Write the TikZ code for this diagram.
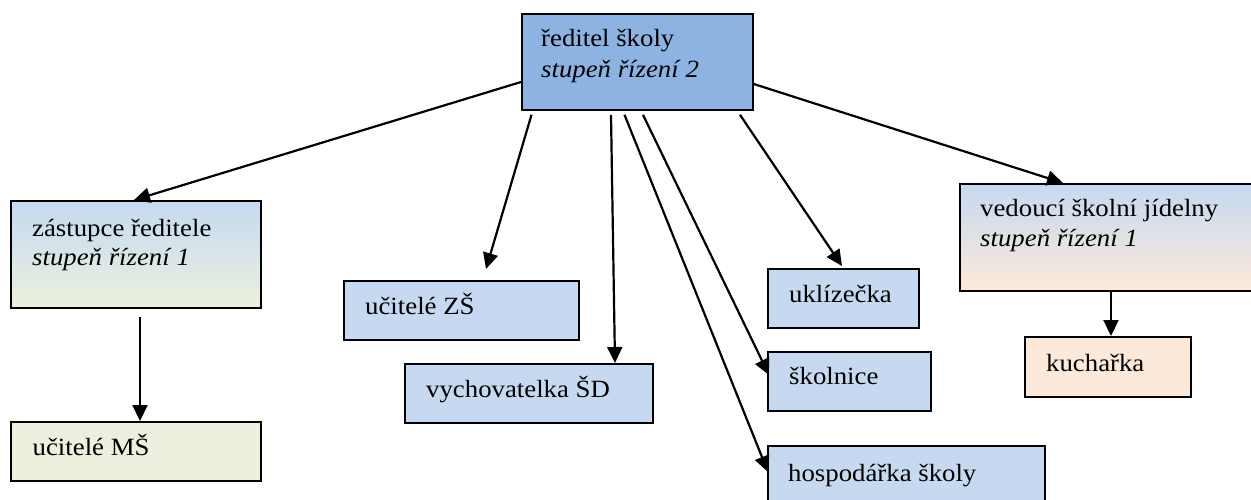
\documentclass[tikz,border=0pt]{standalone}
\usepackage{fontspec}
\setmainfont{Liberation Serif}[FakeStretch=1.08]
\usetikzlibrary{arrows.meta,calc}
\definecolor{dblue}{HTML}{8DB3E2}
\definecolor{lblue}{HTML}{C6D9F1}
\definecolor{lgreen}{HTML}{EBF1DE}
\definecolor{peach}{HTML}{FDE9D9}
\begin{document}
\begin{tikzpicture}[x=1pt,y=-1pt,
  box/.style={draw=black,line width=1.8pt,rectangle,anchor=north west,inner sep=0pt},
  lbl/.style={anchor=base west,inner sep=0pt,font=\fontsize{24.8}{29}\selectfont},
  arr/.style={line width=2.2pt,-{Triangle[length=16pt,width=15pt]}}]
\useasboundingbox (0,0) rectangle (1251,499);
\clip (0,0) rectangle (1251,499);
% boxes
\node[box,fill=dblue,minimum width=231pt,minimum height=96pt] (red) at (521,13) {};
\node[box,top color=lblue,bottom color=lgreen,minimum width=250pt,minimum height=107pt] (zs) at (10,200) {};
\node[box,fill=lgreen,minimum width=250pt,minimum height=59pt] (ms) at (10,421) {};
\node[box,fill=lblue,minimum width=235pt,minimum height=59pt] (zszs) at (343,280) {};
\node[box,fill=lblue,minimum width=248pt,minimum height=59pt] (sd) at (404,363) {};
\node[box,fill=lblue,minimum width=151pt,minimum height=59pt] (ukl) at (767,268) {};
\node[box,fill=lblue,minimum width=163pt,minimum height=59pt] (skol) at (767,351) {};
\node[box,fill=lblue,minimum width=277pt,minimum height=70pt] (hosp) at (767,445) {};
\node[box,top color=lblue,bottom color=peach,minimum width=310pt,minimum height=107pt] (ved) at (959,183) {};
\node[box,fill=peach,minimum width=166pt,minimum height=60pt] (kuch) at (1024,336) {};
% texts
\node[lbl] (redt1) at (541,46.5) {ředitel školy};
\node[lbl] (redt2) at (541,77.5) {\itshape stupeň řízení 2};
\node[lbl] (zst1) at (32,236.7) {zástupce ředitele};
\node[lbl] (zst2) at (32,265.5) {\itshape stupeň řízení 1};
\node[lbl] (vedt1) at (980,216.7) {vedoucí školní jídelny};
\node[lbl] (vedt2) at (980,246.7) {\itshape stupeň řízení 1};
\node[lbl] (mst) at (32.5,455.7) {učitelé MŠ};
\node[lbl] (zszst) at (365,314.5) {učitelé ZŠ};
\node[lbl] (sdt) at (426,397.5) {vychovatelka ŠD};
\node[lbl] (uklt) at (789,302.5) {uklízečka};
\node[lbl] (skolt) at (789,384.3) {školnice};
\node[lbl] (hospt) at (788,481.7) {hospodářka školy};
\node[lbl] (kucht) at (1046,371.7) {kuchařka};
% arrows
\draw[arr] ($(red.north west)+(0,69)$) -- ($(zs.north west)+(124,0)$);
\draw[arr] ($(red.south west)+(10.5,4)$) -- ($(zszs.north west)+(143,-11)$);
\draw[arr] ($(red.south west)+(90,4)$) -- ($(sd.north west)+(211,0)$);
\draw[arr] ($(red.south west)+(103.5,4)$) -- ($(hosp.north west)+(1,27)$);
\draw[arr] ($(red.south west)+(122,4)$) -- ($(skol.north west)+(2,24)$);
\draw[arr] ($(red.south west)+(219,4)$) -- ($(ukl.north west)+(75,-2)$);
\draw[arr] ($(red.north east)+(0,71)$) -- ($(ved.north west)+(104,0)$);
\draw[arr] ($(zs.south west)+(130,8)$) -- ($(ms.north west)+(130,0)$);
\draw[arr] ($(ved.south west)+(152,0)$) -- ($(kuch.north west)+(87,0)$);
\end{tikzpicture}
\end{document}
